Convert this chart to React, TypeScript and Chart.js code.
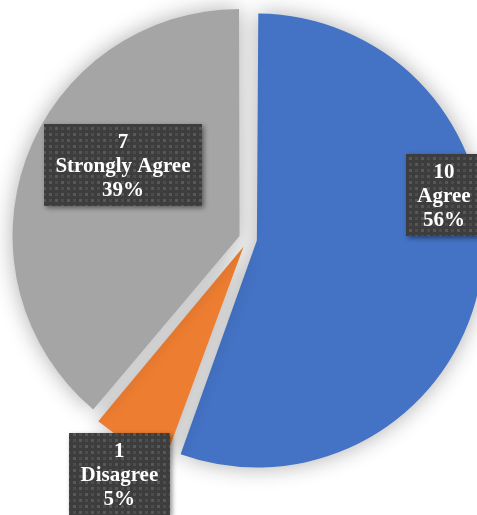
import React, { useEffect, useRef } from 'react';
import { Chart, registerables } from 'chart.js';

Chart.register(...registerables);

const categories = ['Agree', 'Disagree', 'Strongly Agree'];
const counts = [10, 1, 7];
const percentLabels = ['56%', '5%', '39%'];
const sliceColors = ['#4472C4', '#ED7D31', '#A5A5A5'];

const PIE_RADIUS = 227;
const SLICE_OFFSET = 36; // Chart.js moves a slice by offset/4

// label box placement: angle (deg, clockwise from top) and distance as fraction of radius
const labelLayout = [
  { angle: 77.3, dist: 0.885 },
  { angle: 208.7, dist: 1.18 },
  { angle: 300.6, dist: 0.64 },
];

function makePattern(ctx: CanvasRenderingContext2D): CanvasPattern | string {
  const c = document.createElement('canvas');
  c.width = 12;
  c.height = 12;
  const p = c.getContext('2d');
  if (!p) return '#404040';
  p.fillStyle = '#3d3d3d';
  p.fillRect(0, 0, 12, 12);
  p.fillStyle = '#585858';
  p.fillRect(1, 1, 3, 3);
  p.fillRect(7, 7, 3, 3);
  p.fillStyle = '#4c4c4c';
  p.fillRect(7, 1, 3, 3);
  p.fillRect(1, 7, 3, 3);
  return ctx.createPattern(c, 'repeat') || '#404040';
}

const shadowPlugin = {
  id: 'sliceShadow',
  beforeDatasetsDraw(chart: any) {
    // keep every exploded slice at the same outer radius
    const meta = chart.getDatasetMeta(0);
    meta.data.forEach((arc: any) => {
      const circ = arc.circumference;
      const fix = 1 - Math.sin(Math.min(Math.PI, circ || 0));
      arc.outerRadius = PIE_RADIUS - (SLICE_OFFSET / 4) * fix;
    });
    const ctx = chart.ctx;
    ctx.save();
    ctx.shadowColor = 'rgba(0,0,0,0.32)';
    ctx.shadowBlur = 22;
    ctx.shadowOffsetX = 0;
    ctx.shadowOffsetY = 0;
  },
  afterDatasetsDraw(chart: any) {
    chart.ctx.restore();
  },
};

const labelPlugin = {
  id: 'boxLabels',
  afterDraw(chart: any) {
    const ctx: CanvasRenderingContext2D = chart.ctx;
    const meta = chart.getDatasetMeta(0);
    const area = chart.chartArea;
    const cx = (area.left + area.right) / 2;
    const cy = (area.top + area.bottom) / 2;
    const pattern = makePattern(ctx);
    const fontSize = 21;
    const lineH = 24;
    meta.data.forEach((arc: any, i: number) => {
      const r = PIE_RADIUS;
      const lay = labelLayout[i];
      const a = (lay.angle * Math.PI) / 180;
      const x = cx + lay.dist * r * Math.sin(a);
      const y = cy - lay.dist * r * Math.cos(a);
      const lines = [String(counts[i]), categories[i], percentLabels[i]];
      ctx.save();
      ctx.font = `bold ${fontSize}px "Liberation Serif", "Times New Roman", serif`;
      const tw = Math.max(...lines.map((l) => ctx.measureText(l).width));
      const w = tw + 23;
      const h = 82;
      ctx.shadowColor = 'rgba(0,0,0,0.45)';
      ctx.shadowBlur = 5;
      ctx.shadowOffsetX = 2;
      ctx.shadowOffsetY = 2;
      ctx.fillStyle = pattern as any;
      ctx.fillRect(Math.round(x - w / 2), Math.round(y - h / 2), Math.round(w), h);
      ctx.shadowColor = 'transparent';
      ctx.shadowBlur = 0;
      ctx.shadowOffsetX = 0;
      ctx.shadowOffsetY = 0;
      ctx.fillStyle = '#ffffff';
      ctx.textAlign = 'center';
      ctx.textBaseline = 'middle';
      lines.forEach((l, k) => {
        ctx.fillText(l, x, y + 2 + (k - 1) * lineH);
      });
      ctx.restore();
    });
  },
};

export default function App() {
  const ref = useRef<HTMLCanvasElement>(null);
  useEffect(() => {
    if (!ref.current) return;
    const chart = new Chart(ref.current, {
      type: 'pie',
      data: {
        labels: categories,
        datasets: [
          {
            data: counts,
            backgroundColor: sliceColors,
            borderWidth: 0,
            offset: SLICE_OFFSET,
            radius: PIE_RADIUS,
          } as any,
        ],
      },
      options: {
        animation: false,
        responsive: true,
        maintainAspectRatio: false,
        layout: { padding: { left: 0, right: 0, top: 0, bottom: 37 } },
        plugins: {
          legend: { display: false },
          tooltip: { enabled: false },
        },
      },
      plugins: [shadowPlugin, labelPlugin],
    });
    return () => chart.destroy();
  }, []);
  return (
    <div
      style={{
        position: 'fixed',
        left: 0,
        top: 0,
        width: 477,
        height: 515,
        overflow: 'hidden',
        background: '#ffffff',
      }}
    >
      <div style={{ position: 'absolute', left: 0, top: 0, width: 496, height: 515 }}>
        <canvas ref={ref} />
      </div>
    </div>
  );
}
